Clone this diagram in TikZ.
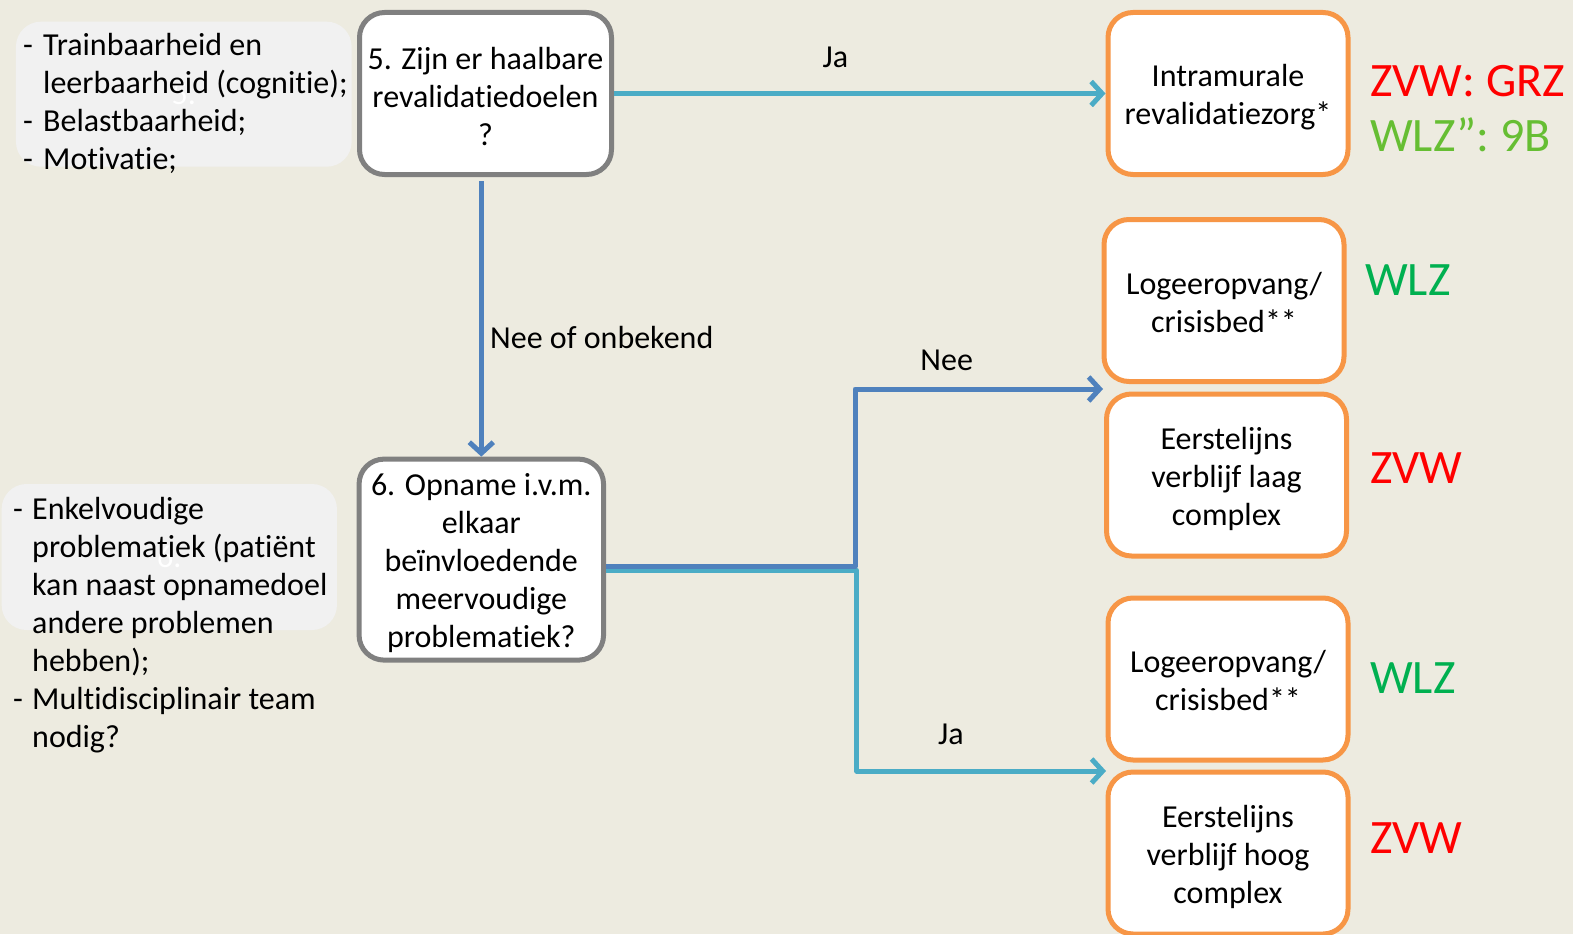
\documentclass[tikz,border=0pt]{standalone}
\usepackage{fontspec}
\setmainfont{Carlito}[Ligatures=NoCommon]
\usetikzlibrary{arrows.meta,calc}
\definecolor{bgc}{RGB}{237,235,224}
\definecolor{grayfill}{RGB}{241,241,241}
\definecolor{qborder}{RGB}{128,128,128}
\definecolor{oborder}{RGB}{247,150,70}
\definecolor{lblue}{RGB}{75,172,198}
\definecolor{dblue}{RGB}{79,129,189}
\definecolor{zred}{RGB}{255,0,0}
\definecolor{wgreen}{RGB}{0,176,80}
\definecolor{lgreen}{RGB}{102,190,51}
\newcommand\myboxfont{\fontsize{32}{38}\selectfont}
\newcommand\mybigfont{\fontsize{48}{57}\selectfont}
\begin{document}
\begin{tikzpicture}[x=1pt,y=-1pt,
  box/.style={draw, line width=5pt, rounded corners=25pt, fill=white, inner sep=0pt},
  boxtxt/.style={align=center, inner sep=0pt, font=\myboxfont, text=black},
  qbox/.style={box, draw=qborder},
  obox/.style={box, draw=oborder, minimum width=240pt, minimum height=162pt},
  graybox/.style={fill=grayfill, rounded corners=25pt, inner sep=0pt, font=\myboxfont, text=white},
  listtext/.style={anchor=base west, inner sep=0pt, font=\myboxfont, align=left},
  lbl/.style={anchor=base, inner sep=0pt, font=\myboxfont},
  big/.style={anchor=base west, inner sep=0pt, font=\mybigfont},
  conn/.style={line width=5pt, line join=round,
    -{Straight Barb[length=11pt, width=24pt, line width=5pt]}}
]
\useasboundingbox (0,0) rectangle (1573,934);
\clip (0,0) rectangle (1573,934);
\fill[bgc] (0,0) rectangle (1573,934);

% left grey boxes
\node[graybox, minimum width=335.7pt, minimum height=145pt] (g1) at (183.8,94.2) {5.};
\node[graybox, minimum width=335.3pt, minimum height=146pt] (g2) at (169.3,557) {6.};

\node[listtext] (t1) at (23,56) {\begin{tabular}[t]{@{}l@{}}
\makebox[20pt][l]{-}Trainbaarheid en\\
\hspace*{20pt}leerbaarheid (cognitie);\\
\makebox[20pt][l]{-}Belastbaarheid;\\
\makebox[20pt][l]{-}Motivatie;
\end{tabular}};

\node[listtext] (t2) at (13,519) {\begin{tabular}[t]{@{}l@{}}
\makebox[19pt][l]{-}Enkelvoudige\\
\hspace*{19pt}problematiek (patiënt\\
\hspace*{19pt}kan naast opnamedoel\\
\hspace*{19pt}andere problemen\\
\hspace*{19pt}hebben);\\
\makebox[19pt][l]{-}Multidisciplinair team\\
\hspace*{19pt}nodig?
\end{tabular}};

% question boxes
\node[qbox, minimum width=252pt, minimum height=162pt] (b5) at (485.5,93.5) {};
\node[boxtxt] (b5t) at ($(b5.center)+(0,2.5)$) {5. Zijn er haalbare\\revalidatiedoelen\\?};
\node[qbox, minimum width=244.5pt, minimum height=201pt] (b6) at (481.3,559.6) {};
\node[boxtxt] (b6t) at ($(b6.center)+(0,3.5)$)
  {6. Opname i.v.m.\\elkaar\\beïnvloedende\\meervoudige\\problematiek?};

% outcome boxes
\node[obox] (ir) at (1228,93.5) {};
\node[boxtxt] (irt) at ($(ir.center)+(0,4)$) {Intramurale\\revalidatiezorg*};
\node[obox] (l1) at (1224,300.5) {};
\node[boxtxt] (l1t) at ($(l1.center)+(0,2.5)$) {Logeeropvang/\\crisisbed**};
\node[obox] (e1) at (1226.5,475) {};
\node[boxtxt] (e1t) at ($(e1.center)+(0,4)$) {Eerstelijns\\verblijf laag\\complex};
\node[obox] (l2) at (1228,679) {};
\node[boxtxt] (l2t) at ($(l2.center)+(0,1.5)$) {Logeeropvang/\\crisisbed**};
\node[obox] (e2) at (1228,853) {};
\node[boxtxt] (e2t) at ($(e2.center)+(0,3.5)$) {Eerstelijns\\verblijf hoog\\complex};

% financing labels
\node[big, text=zred] (f1) at (1370,96.7) {ZVW: GRZ};
\node[big, text=lgreen] (f2) at (1370,151.7) {WLZ”: 9B};
\node[big, text=wgreen] (f3) at (1365,295.7) {WLZ};
\node[big, text=zred] (f4) at (1370,483) {ZVW};
\node[big, text=wgreen] (f5) at (1370,693) {WLZ};
\node[big, text=zred] (f6) at (1370,853) {ZVW};

% connectors
\coordinate (neetip) at (1103,389);
\coordinate (jatip) at (1106,771);
\draw[conn, lblue] (b5.east) -- (b5.east -| ir.west);
\draw[conn, dblue, shorten <=4pt] (b5.south -| b6.north) -- (b6.north);
\draw[conn, lblue] (b6.east |- 0,570) -- (856.7,570) |- (jatip);
\draw[conn, dblue] (b6.east |- 0,566) -- (855,566) |- (neetip);

% connector labels
\node[lbl] (ja1) at (835.5,67.7) {Ja};
\node[lbl, anchor=base west] (nob) at (490,348.3) {Nee of onbekend};
\node[lbl] (nee) at (946.7,370) {Nee};
\node[lbl] (ja2) at (951,744) {Ja};
\end{tikzpicture}
\end{document}
